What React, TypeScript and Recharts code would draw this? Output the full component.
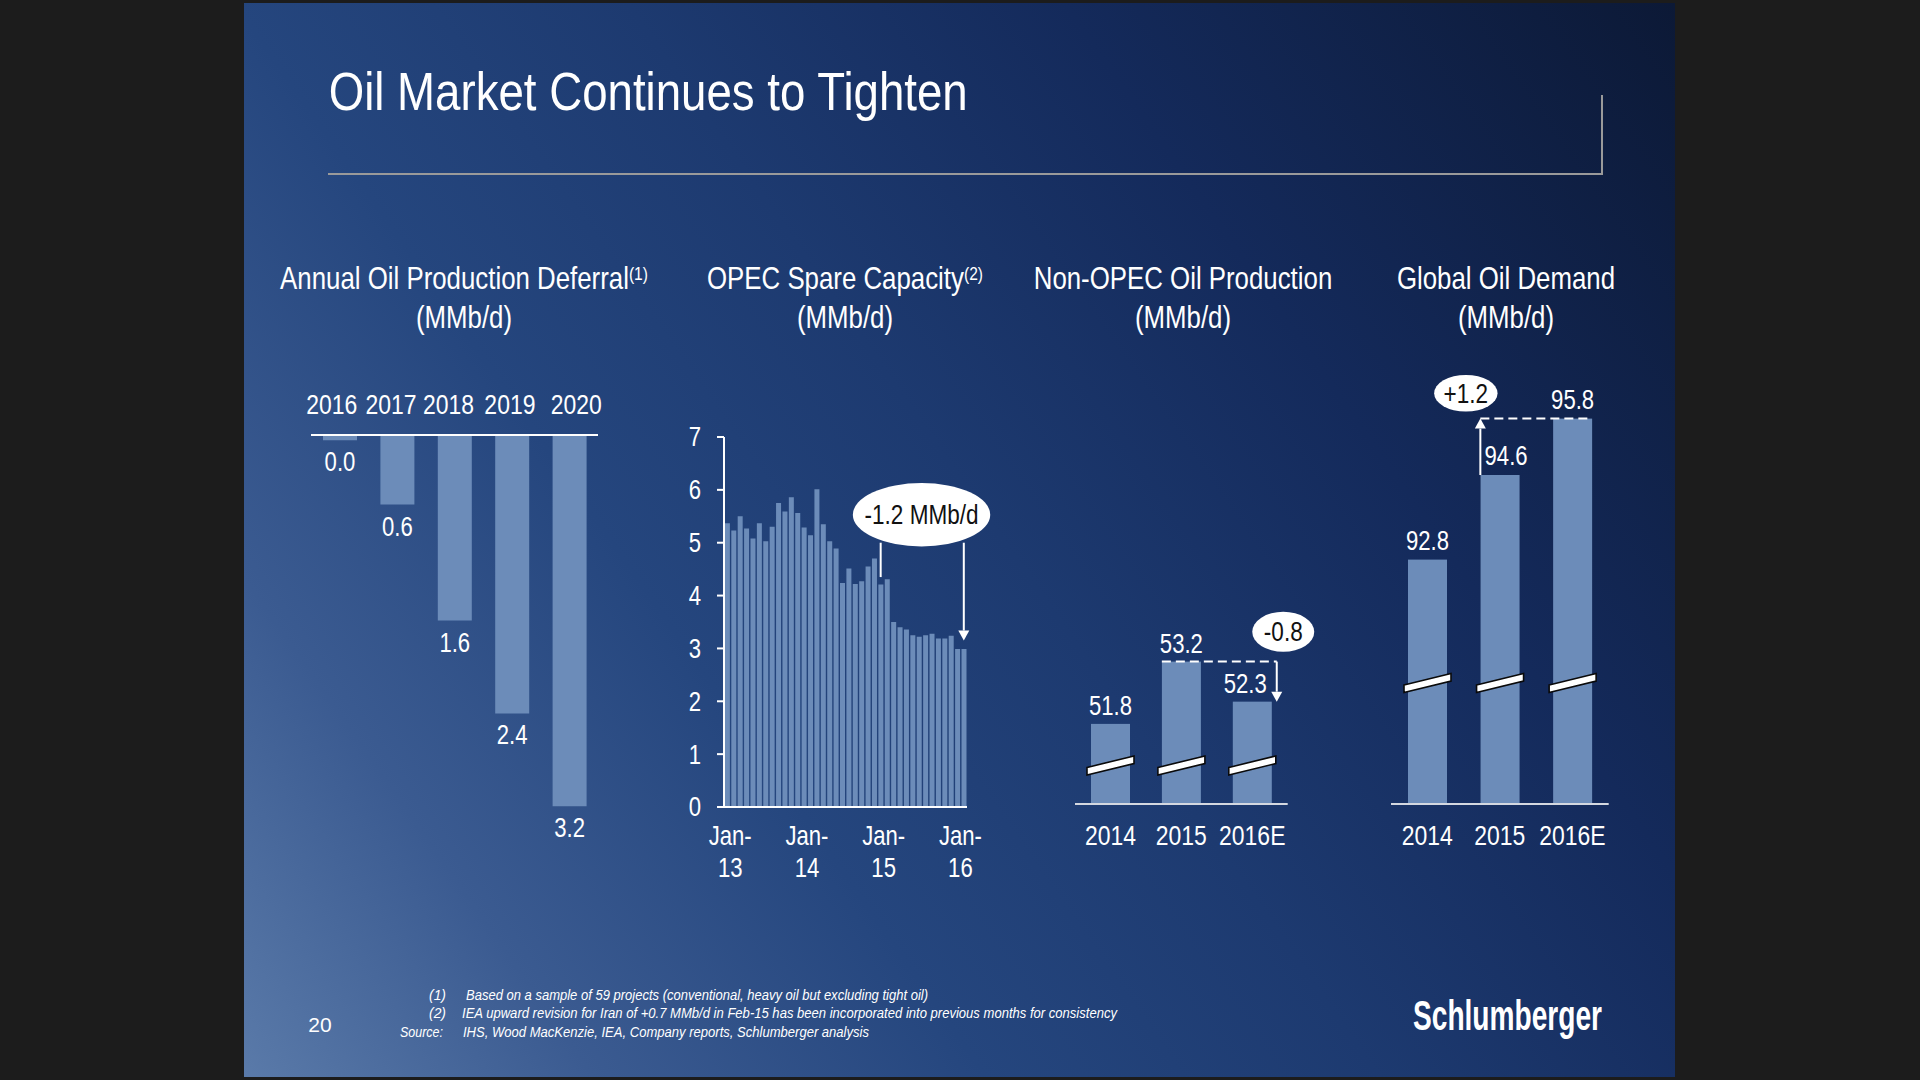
import React from 'react';
import { BarChart, Bar, XAxis, YAxis, LabelList, ReferenceLine, ReferenceDot } from 'recharts';

const SANS = "'Liberation Sans', Arial, Helvetica, sans-serif";
const NARROW_SCALE = 0.82;
const BAR = '#6c8cb9';
const WHITE = '#ffffff';

// ---------- data ----------
const deferralYears = ['2016', '2017', '2018', '2019', '2020'];
const deferralValues = [0.045, 0.6, 1.6, 2.4, 3.2];

const opecMonths = [
  'Jan-13', 'Feb-13', 'Mar-13', 'Apr-13', 'May-13', 'Jun-13', 'Jul-13', 'Aug-13', 'Sep-13', 'Oct-13', 'Nov-13', 'Dec-13',
  'Jan-14', 'Feb-14', 'Mar-14', 'Apr-14', 'May-14', 'Jun-14', 'Jul-14', 'Aug-14', 'Sep-14', 'Oct-14', 'Nov-14', 'Dec-14',
  'Jan-15', 'Feb-15', 'Mar-15', 'Apr-15', 'May-15', 'Jun-15', 'Jul-15', 'Aug-15', 'Sep-15', 'Oct-15', 'Nov-15', 'Dec-15',
  'Jan-16', 'Feb-16',
];
const opecValues = [
  5.37, 5.23, 5.5, 5.27, 5.08, 5.37, 5.03, 5.3, 5.75, 5.59, 5.86, 5.56,
  5.29, 5.14, 6.01, 5.35, 5.03, 4.89, 4.24, 4.51, 4.22, 4.27, 4.55, 4.7,
  4.21, 4.31, 3.5, 3.4, 3.36, 3.25, 3.22, 3.25, 3.28, 3.19, 3.19, 3.24,
  2.99, 2.99,
];
const opecTickMonths = ['Jan-13', 'Jan-14', 'Jan-15', 'Jan-16'];
const opecYTicks = [0, 1, 2, 3, 4, 5, 6, 7];

const nonOpecYears = ['2014', '2015', '2016E'];
const nonOpecValues = [51.8, 53.2, 52.3];

const demandYears = ['2014', '2015', '2016E'];
const demandValues = [92.8, 94.6, 95.8];

const deferralData = deferralYears.map((year, i) => ({ year, value: deferralValues[i] }));
const opecData = opecMonths.map((month, i) => ({ month, value: opecValues[i] }));
const nonOpecData = nonOpecYears.map((year, i) => ({ year, value: nonOpecValues[i] }));
const demandData = demandYears.map((year, i) => ({ year, value: demandValues[i] }));

// ---------- helpers ----------
// Narrow (condensed) text: Arial-metric font squeezed horizontally
function NText(props: any) {
  const { x, y, anchor = 'middle', size = 27, fill = WHITE, dy, weight, children } = props;
  return (
    <text
      transform={`translate(${x},${y}) scale(${NARROW_SCALE},1)`}
      x={0}
      y={0}
      dy={dy}
      textAnchor={anchor}
      fontFamily={SANS}
      fontSize={size}
      fontWeight={weight}
      fill={fill}
    >
      {children}
    </text>
  );
}

const deferralTickShift = [-8, -6, -6, -2, 7];

function TopYearTick(props: any) {
  const { x, y, payload, index } = props;
  const dx = deferralTickShift[index] || 0;
  return <NText x={x + dx} y={y - 21} size={28}>{payload.value}</NText>;
}

function BottomYearTick(props: any) {
  const { x, y, payload } = props;
  return <NText x={x} y={y + 41} size={28}>{payload.value}</NText>;
}

function OpecXTick(props: any) {
  const { x, y, payload } = props;
  const parts = String(payload.value).split('-');
  return (
    <g>
      <NText x={x + 3} y={y + 38}>{parts[0] + '-'}</NText>
      <NText x={x + 3} y={y + 70}>{parts[1]}</NText>
    </g>
  );
}

function OpecYTick(props: any) {
  const { x, y, payload } = props;
  return <NText x={x} y={y} dy="0.35em" anchor="end">{payload.value}</NText>;
}

function makeBreakBar(breakAbove: number) {
  return (props: any) => {
    const { x, y, width, height } = props;
    const bottom = y + height;
    const cy = bottom - breakAbove;
    const ext = 4;
    const rise = 11.5;
    const half = 3.8;
    const xl = x - ext;
    const xr = x + width + ext;
    const yl = cy + rise / 2;
    const yr = cy - rise / 2;
    const pts = `${xl},${yl - half} ${xr},${yr - half} ${xr},${yr + half} ${xl},${yl + half}`;
    return (
      <g>
        <rect x={x} y={y} width={width} height={height} fill={BAR} />
        <polygon points={pts} fill="#ffffff" stroke="#0a0a0a" strokeWidth={1.6} />
      </g>
    );
  };
}

const nonOpecBarShape = makeBreakBar(38.5);
const demandBarShape = makeBreakBar(121);

function DeferralLabel(props: any) {
  const { x, y, width, height, value } = props;
  const bottom = Math.max(y, y + height);
  return <NText x={x + width / 2} y={bottom + 31}>{Number(value).toFixed(1)}</NText>;
}

function NonOpecLabel(props: any) {
  const { x, y, width, value, index } = props;
  const dx = index === 2 ? -7 : 0;
  return <NText x={x + width / 2 + dx} y={y - 9}>{Number(value).toFixed(1)}</NText>;
}

function DemandLabel(props: any) {
  const { x, y, width, value, index } = props;
  const dx = index === 1 ? 6 : 0;
  return <NText x={x + width / 2 + dx} y={y - 10}>{Number(value).toFixed(1)}</NText>;
}

function makeEllipse(text: string, rx: number, ry: number, dx: number) {
  return (props: any) => {
    const { cx, cy } = props;
    return (
      <g>
        <ellipse cx={cx + dx} cy={cy} rx={rx} ry={ry} fill="#ffffff" />
        <NText x={cx + dx} y={cy} dy="0.35em" fill="#111111" size={27.5}>{text}</NText>
      </g>
    );
  };
}

function makeArrow(dx: number, dir: 'up' | 'down') {
  return (props: any) => {
    const { x1, y1, y2 } = props;
    const x = x1 + dx;
    const head = 10;
    const hw = 5.5;
    const tipY = y2;
    const baseY = dir === 'down' ? tipY - head : tipY + head;
    return (
      <g>
        <line x1={x} y1={y1} x2={x} y2={baseY} stroke={WHITE} strokeWidth={2} />
        <polygon points={`${x - hw},${baseY} ${x + hw},${baseY} ${x},${tipY}`} fill={WHITE} />
      </g>
    );
  };
}

function makeDashed(dxStart: number, dxEnd: number) {
  return (props: any) => {
    const { x1, y1, x2 } = props;
    return (
      <line x1={x1 + dxStart} y1={y1} x2={x2 + dxEnd} y2={y1} stroke={WHITE} strokeWidth={2} strokeDasharray="9 5" />
    );
  };
}

function ChartTitle(props: any) {
  const { x, title, sup } = props;
  return (
    <g>
      <NText x={x} y={289} size={31.5}>
        {title}
        {sup ? <tspan fontSize={19} dy={-9}>{sup}</tspan> : null}
      </NText>
      <NText x={x} y={328} size={31.5}>(MMb/d)</NText>
    </g>
  );
}

const posAbs = (left: number, top: number): React.CSSProperties => ({ position: 'absolute', left, top });

export default function App() {
  return (
    <div style={{ position: 'absolute', left: 0, top: 0, width: 1920, height: 1080, background: '#1c1c1c', overflow: 'hidden' }}>
      <div
        style={{
          position: 'absolute',
          left: 244,
          top: 3,
          width: 1431,
          height: 1074,
          background:
            'linear-gradient(55deg, #5a7aa9 0%, #3b5b91 16%, #25467e 34%, #1d3a70 52%, #142a5b 72%, #0c1936 100%)',
        }}
      />

      <svg width={1920} height={1080} style={{ position: 'absolute', left: 0, top: 0 }}>
        <text x={328.7} y={110} fontFamily={SANS} fontSize={54} fill={WHITE} textLength={639} lengthAdjust="spacingAndGlyphs">
          Oil Market Continues to Tighten
        </text>
        <line x1={328} y1={174} x2={1602} y2={174} stroke="#9a9a9a" strokeWidth={2} />
        <line x1={1602} y1={95} x2={1602} y2={175} stroke="#9a9a9a" strokeWidth={2} />

        <ChartTitle x={464} title="Annual Oil Production Deferral" sup="(1)" />
        <ChartTitle x={845} title="OPEC Spare Capacity" sup="(2)" />
        <ChartTitle x={1183} title="Non-OPEC Oil Production" />
        <ChartTitle x={1506} title="Global Oil Demand" />

        <text x={320} y={1031.5} textAnchor="middle" fontFamily={SANS} fontSize={21} fill={WHITE}>20</text>

        <g fontFamily={SANS} fontStyle="italic" fontSize={15.5} fill={WHITE}>
          <text x={429} y={1000} textLength={17} lengthAdjust="spacingAndGlyphs">(1)</text>
          <text x={466} y={1000} textLength={462} lengthAdjust="spacingAndGlyphs">
            Based on a sample of 59 projects (conventional, heavy oil but excluding tight oil)
          </text>
          <text x={429} y={1018} textLength={17} lengthAdjust="spacingAndGlyphs">(2)</text>
          <text x={462} y={1018} textLength={655} lengthAdjust="spacingAndGlyphs">
            IEA upward revision for Iran of +0.7 MMb/d in Feb-15 has been incorporated into previous months for consistency
          </text>
          <text x={400} y={1036.5} textLength={43} lengthAdjust="spacingAndGlyphs">Source:</text>
          <text x={463} y={1036.5} textLength={406} lengthAdjust="spacingAndGlyphs">
            IHS, Wood MacKenzie, IEA, Company reports, Schlumberger analysis
          </text>
        </g>

        <text x={1413} y={1030} fontFamily={SANS} fontWeight={700} fontSize={42} fill={WHITE} textLength={189} lengthAdjust="spacingAndGlyphs">
          Schlumberger
        </text>
      </svg>

      {/* Annual Oil Production Deferral */}
      <div style={posAbs(300, 380)}>
        <BarChart width={310} height={480} data={deferralData} margin={{ top: 0, right: 12, bottom: 19, left: 11 }}>
          <XAxis
            dataKey="year"
            orientation="top"
            height={55}
            tickSize={0}
            tickMargin={0}
            tickLine={false}
            axisLine={{ stroke: WHITE, strokeWidth: 2 }}
            tick={TopYearTick}
            interval={0}
          />
          <YAxis hide type="number" domain={[0, 3.5]} reversed allowDataOverflow />
          <Bar dataKey="value" fill={BAR} barSize={34} isAnimationActive={false}>
            <LabelList dataKey="value" content={DeferralLabel} />
          </Bar>
        </BarChart>
      </div>

      {/* OPEC Spare Capacity */}
      <div style={posAbs(640, 420)}>
        <BarChart width={360} height={467} data={opecData} margin={{ top: 17, right: 33, bottom: 10, left: 0 }} barCategoryGap="14%">
          <XAxis
            dataKey="month"
            ticks={opecTickMonths}
            interval={0}
            height={70}
            tickSize={0}
            tickMargin={0}
            tickLine={false}
            axisLine={{ stroke: WHITE, strokeWidth: 2 }}
            tick={OpecXTick}
          />
          <YAxis
            type="number"
            domain={[0, 7]}
            ticks={opecYTicks}
            interval={0}
            width={84}
            tickSize={7}
            tickMargin={16}
            axisLine={{ stroke: WHITE, strokeWidth: 2 }}
            tickLine={{ stroke: WHITE, strokeWidth: 2 }}
            tick={OpecYTick}
            allowDataOverflow
          />
          <Bar dataKey="value" fill={BAR} isAnimationActive={false} />
          <ReferenceLine
            segment={[{ x: 'Jan-15', y: 5.0 }, { x: 'Jan-15', y: 4.35 }]}
            stroke={WHITE}
            strokeWidth={2}
          />
          <ReferenceLine
            segment={[{ x: 'Feb-16', y: 5.0 }, { x: 'Feb-16', y: 3.15 }]}
            shape={makeArrow(0, 'down')}
          />
          <ReferenceDot x="Jul-15" y={5.53} r={1} shape={makeEllipse('-1.2 MMb/d', 68.7, 31.7, 2.5)} />
        </BarChart>
      </div>

      {/* Non-OPEC Oil Production */}
      <div style={posAbs(1060, 520)}>
        <BarChart width={270} height={334} data={nonOpecData} margin={{ top: 17, right: 42.3, bottom: 0, left: 15 }}>
          <XAxis
            dataKey="year"
            height={50}
            tickSize={0}
            tickMargin={0}
            tickLine={false}
            axisLine={{ stroke: '#d4d8e0', strokeWidth: 2 }}
            tick={BottomYearTick}
            interval={0}
          />
          <YAxis hide type="number" domain={[50, 56]} allowDataOverflow />
          <Bar dataKey="value" fill={BAR} barSize={39} shape={nonOpecBarShape} isAnimationActive={false}>
            <LabelList dataKey="value" content={NonOpecLabel} />
          </Bar>
          <ReferenceLine
            segment={[{ x: '2015', y: 53.2 }, { x: '2016E', y: 53.2 }]}
            shape={makeDashed(-19.5, 24.5)}
          />
          <ReferenceLine
            segment={[{ x: '2016E', y: 53.2 }, { x: '2016E', y: 52.3 }]}
            shape={makeArrow(24.5, 'down')}
          />
          <ReferenceDot x="2016E" y={53.87} r={1} shape={makeEllipse('-0.8', 31, 20, 31)} />
        </BarChart>
      </div>

      {/* Global Oil Demand */}
      <div style={posAbs(1370, 350)}>
        <BarChart width={250} height={504} data={demandData} margin={{ top: 12.2, right: 11.3, bottom: 0, left: 21 }}>
          <XAxis
            dataKey="year"
            height={50}
            tickSize={0}
            tickMargin={0}
            tickLine={false}
            axisLine={{ stroke: '#d4d8e0', strokeWidth: 2 }}
            tick={BottomYearTick}
            interval={0}
          />
          <YAxis hide type="number" domain={[87.6, 97]} allowDataOverflow />
          <Bar dataKey="value" fill={BAR} barSize={39} shape={demandBarShape} isAnimationActive={false}>
            <LabelList dataKey="value" content={DemandLabel} />
          </Bar>
          <ReferenceLine
            segment={[{ x: '2015', y: 95.8 }, { x: '2016E', y: 95.8 }]}
            shape={makeDashed(-19.5, 19.5)}
          />
          <ReferenceLine
            segment={[{ x: '2015', y: 94.6 }, { x: '2015', y: 95.8 }]}
            shape={makeArrow(-19.5, 'up')}
          />
          <ReferenceDot x="2015" y={96.34} r={1} shape={makeEllipse('+1.2', 31.7, 18.3, -34)} />
        </BarChart>
      </div>
    </div>
  );
}
